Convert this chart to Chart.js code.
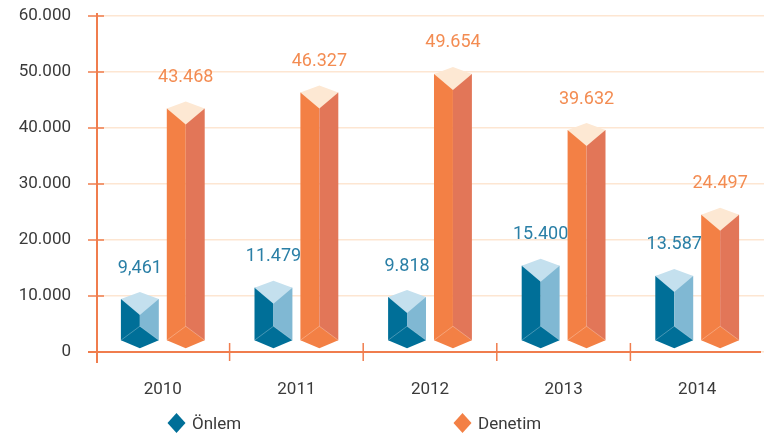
<!DOCTYPE html>
<html>
<head>
<meta charset="utf-8">
<script src="https://cdn.jsdelivr.net/npm/chart.js@4.4.0/dist/chart.umd.min.js"></script>
<style>
  html, body { margin: 0; padding: 0; background: #fff; }
  #wrap { position: relative; width: 776px; height: 439px; }
  #legend { position: absolute; left: 0; top: 411px; width: 776px; height: 24px;
            font: 17px Roboto, sans-serif; color: #3a3a3a; }
  .item { position: absolute; top: 0; height: 24px; display: flex; align-items: center; }
  .item svg { margin-right: 6px; }
</style>
</head>
<body>
<div id="wrap">
  <canvas id="chart" width="776" height="439"></canvas>
  <div id="legend"></div>
</div>
<script>
// ===== Data =====
const YEARS = ['2010', '2011', '2012', '2013', '2014'];
const ONLEM = [9461, 11479, 9818, 15400, 13587];
const DENETIM = [43468, 46327, 49654, 39632, 24497];
const ONLEM_LABELS = ['9,461', '11.479', '9.818', '15.400', '13.587'];
const DENETIM_LABELS = ['43.468', '46.327', '49.654', '39.632', '24.497'];
const Y_TICK_LABELS = ['0', '10.000', '20.000', '30.000', '40.000', '50.000', '60.000'];

const THEME = {
  axis: '#f07d4e',
  grid: '#fde6d2',
  ink: '#3a3a3a',
  onlem: { front: '#006f98', side: '#80b8d3', top: '#c4e0ee', label: '#2a7fa6' },
  denetim: { front: '#f38045', side: '#e27658', top: '#fde8d3', label: '#f38c52' },
};
const SERIES_STYLE = [THEME.onlem, THEME.denetim];
const VALUE_LABELS = [ONLEM_LABELS, DENETIM_LABELS];
const FONT = 'Roboto, sans-serif';

// prism drawn over each (invisible) bar
function drawPrism(ctx, x, y, base, w, col) {
  const h = w / 2, cap = 7, face = 16;
  const bCorner = base - 11, bTip = base - 3, bV = bCorner - 14;

  ctx.fillStyle = col.front;
  ctx.fillRect(x - h, y, h, bCorner - y);
  ctx.fillStyle = col.side;
  ctx.fillRect(x, y, h, bCorner - y);

  // bottom diamond
  ctx.fillStyle = col.front;
  ctx.beginPath();
  ctx.moveTo(x - h, bCorner);
  ctx.lineTo(x, bV);
  ctx.lineTo(x + h, bCorner);
  ctx.lineTo(x, bTip);
  ctx.closePath();
  ctx.fill();
  ctx.strokeStyle = 'rgba(255,255,255,0.35)';
  ctx.lineWidth = 0.8;
  ctx.beginPath();
  ctx.moveTo(x - h, bCorner);
  ctx.lineTo(x, bV);
  ctx.lineTo(x + h, bCorner);
  ctx.stroke();

  // top face
  ctx.fillStyle = col.top;
  ctx.beginPath();
  ctx.moveTo(x, y - cap);
  ctx.lineTo(x + h, y);
  ctx.lineTo(x, y + face);
  ctx.lineTo(x - h, y);
  ctx.closePath();
  ctx.fill();
}

const prismPlugin = {
  id: 'prisms',
  afterDatasetsDraw(chart) {
    const ctx = chart.ctx;
    ctx.save();
    chart.data.datasets.forEach((ds, di) => {
      const meta = chart.getDatasetMeta(di);
      const col = SERIES_STYLE[di];
      meta.data.forEach((bar, i) => {
        drawPrism(ctx, bar.x, bar.y, bar.base, bar.width, col);
        ctx.fillStyle = col.label;
        ctx.font = '18px ' + FONT;
        ctx.textAlign = 'center';
        ctx.textBaseline = 'middle';
        ctx.fillText(VALUE_LABELS[di][i], bar.x, bar.y - 31);
      });
    });
    ctx.restore();
  }
};

const axisPlugin = {
  id: 'orangeAxes',
  beforeDatasetsDraw(chart) {
    const { ctx, chartArea: a, scales } = chart;
    const ax = a.left + 1;
    ctx.save();
    ctx.strokeStyle = THEME.axis;
    ctx.lineWidth = 2;
    ctx.beginPath();
    ctx.moveTo(ax, a.top - 3);
    ctx.lineTo(ax, a.bottom + 11);
    ctx.moveTo(a.left - 8, a.bottom);
    ctx.lineTo(a.right - 3, a.bottom);
    ctx.stroke();

    ctx.lineWidth = 1.5;
    ctx.beginPath();
    scales.y.ticks.forEach((t, i) => {
      const py = scales.y.getPixelForTick(i);
      ctx.moveTo(ax - 9, py);
      ctx.lineTo(ax + 7, py);
    });
    for (let i = 0; i < YEARS.length - 1; i++) {
      const px = (scales.x.getPixelForValue(i) + scales.x.getPixelForValue(i + 1)) / 2;
      ctx.moveTo(px, a.bottom - 9);
      ctx.lineTo(px, a.bottom + 9);
    }
    ctx.stroke();
    ctx.restore();
  }
};

new Chart(document.getElementById('chart'), {
  type: 'bar',
  data: {
    labels: YEARS,
    datasets: [
      { label: 'Önlem', data: ONLEM, backgroundColor: 'rgba(0,0,0,0)', borderWidth: 0 },
      { label: 'Denetim', data: DENETIM, backgroundColor: 'rgba(0,0,0,0)', borderWidth: 0 },
    ]
  },
  options: {
    responsive: false,
    animation: false,
    layout: { padding: { top: 16, right: 12, bottom: 40, left: 0 } },
    datasets: { bar: { categoryPercentage: 0.687, barPercentage: 0.826 } },
    plugins: { legend: { display: false }, tooltip: { enabled: false } },
    scales: {
      x: {
        grid: { display: false, drawTicks: false },
        border: { display: false },
        ticks: { color: THEME.ink, font: { family: FONT, size: 17 }, padding: 28 },
        afterFit: (s) => { s.height = 47; }
      },
      y: {
        min: 0, max: 60000,
        // tick marks kept invisible; their length spaces the labels from the axis
        grid: { color: THEME.grid, lineWidth: 1.5, drawTicks: true, tickLength: 25, tickColor: 'rgba(0,0,0,0)' },
        border: { display: false },
        ticks: {
          stepSize: 10000,
          color: THEME.ink,
          font: { family: FONT, size: 17 },
          padding: 0,
          callback: (v, i) => Y_TICK_LABELS[i]
        },
        afterFit: (s) => { s.width = 96; }
      }
    }
  },
  plugins: [axisPlugin, prismPlugin]
});

// legend
const legend = document.getElementById('legend');
[['Önlem', THEME.onlem.front, 167], ['Denetim', THEME.denetim.front, 453]].forEach(([name, color, left]) => {
  const item = document.createElement('div');
  item.className = 'item';
  item.style.left = left + 'px';
  item.innerHTML = '<svg width="19" height="22"><polygon points="9.5,1 18.5,11 9.5,21 0.5,11" fill="' + color + '"/></svg>';
  const span = document.createElement('span');
  span.textContent = name;
  item.appendChild(span);
  legend.appendChild(item);
});
</script>
</body>
</html>
